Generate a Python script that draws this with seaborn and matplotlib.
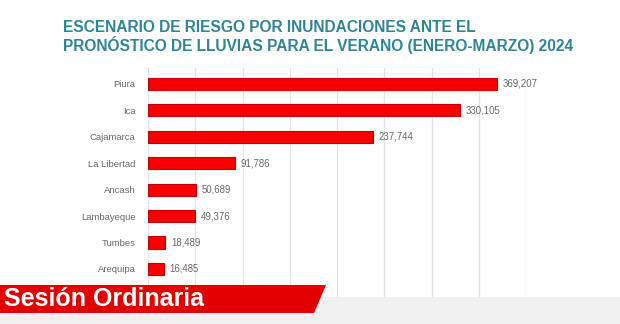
import matplotlib
matplotlib.use("Agg")
import matplotlib.pyplot as plt
import seaborn as sns
import pandas as pd
from matplotlib.patches import Polygon

regions = ["Piura", "Ica", "Cajamarca", "La Libertad", "Ancash", "Lambayeque", "Tumbes", "Arequipa"]
values = [369207, 330105, 237744, 91786, 50689, 49376, 18489, 16485]
value_labels = ["369,207", "330,105", "237,744", "91,786", "50,689", "49,376", "18,489", "16,485"]
title_lines = ["ESCENARIO DE RIESGO POR INUNDACIONES ANTE EL",
               "PRONÓSTICO DE LLUVIAS PARA EL VERANO (ENERO-MARZO) 2024"]
banner_text = "Sesión Ordinaria"

df = pd.DataFrame({"region": regions, "value": values})

sns.set_theme(style="white")
plt.rcParams['font.family'] = ['Liberation Sans', 'DejaVu Sans']

W, H = 620, 324
fig = plt.figure(figsize=(W / 100, H / 100), dpi=100)
fig.patch.set_facecolor("white")

top_px, bot_px = 68, 297
ax = fig.add_axes([148 / W, 1 - bot_px / H, (526 - 148) / W, (bot_px - top_px) / H])
sns.barplot(data=df, x="value", y="region", orient="h", ax=ax,
            color="#fa0000", edgecolor="#c00000", linewidth=0.8, width=0.46,
            saturation=1)
ax.set_xlim(0, 400000)
ax.set_ylim(8.06, -0.605)
ax.set_xticks(range(0, 400001, 50000))
ax.xaxis.grid(True, color="#e2e2e2", linewidth=0.9)
ax.set_axisbelow(True)
ax.set_xlabel("")
ax.set_ylabel("")
ax.tick_params(axis="x", length=0, labelbottom=False)
ax.tick_params(axis="y", length=0, labelsize=6.8, labelcolor="#666666", pad=9)
for s in ax.spines.values():
    s.set_visible(False)

for i, (v, lab) in enumerate(zip(values, value_labels)):
    ax.text(v + 6000, i, lab, va="center", ha="left", fontsize=6.9, color="#666666")

fig.text(63 / W, 1 - 27.5 / H, title_lines[0], fontsize=11.2, fontweight="bold",
         color="#2f8595", va="center", ha="left")
fig.text(63 / W, 1 - 44.5 / H, title_lines[1], fontsize=11.2, fontweight="bold",
         color="#2f8595", va="center", ha="left")

# bottom strip and banner
strip = Polygon([[0, 1 - 297 / H], [1, 1 - 297 / H], [1, 0], [0, 0]],
                closed=True, transform=fig.transFigure, facecolor="#f1f1f1",
                edgecolor="none", zorder=5)
fig.patches.append(strip)
banner = Polygon([[0, 1 - 285 / H], [326 / W, 1 - 285 / H], [314 / W, 1 - 313 / H], [0, 1 - 313 / H]],
                 closed=True, transform=fig.transFigure, facecolor="#e30000",
                 edgecolor="none", zorder=6)
fig.patches.append(banner)
fig.text(4 / W, 1 - 298.5 / H, banner_text, fontsize=18, fontweight="bold",
         color="white", va="center", ha="left", zorder=7)

fig.savefig("out.png", dpi=100, facecolor="white")
